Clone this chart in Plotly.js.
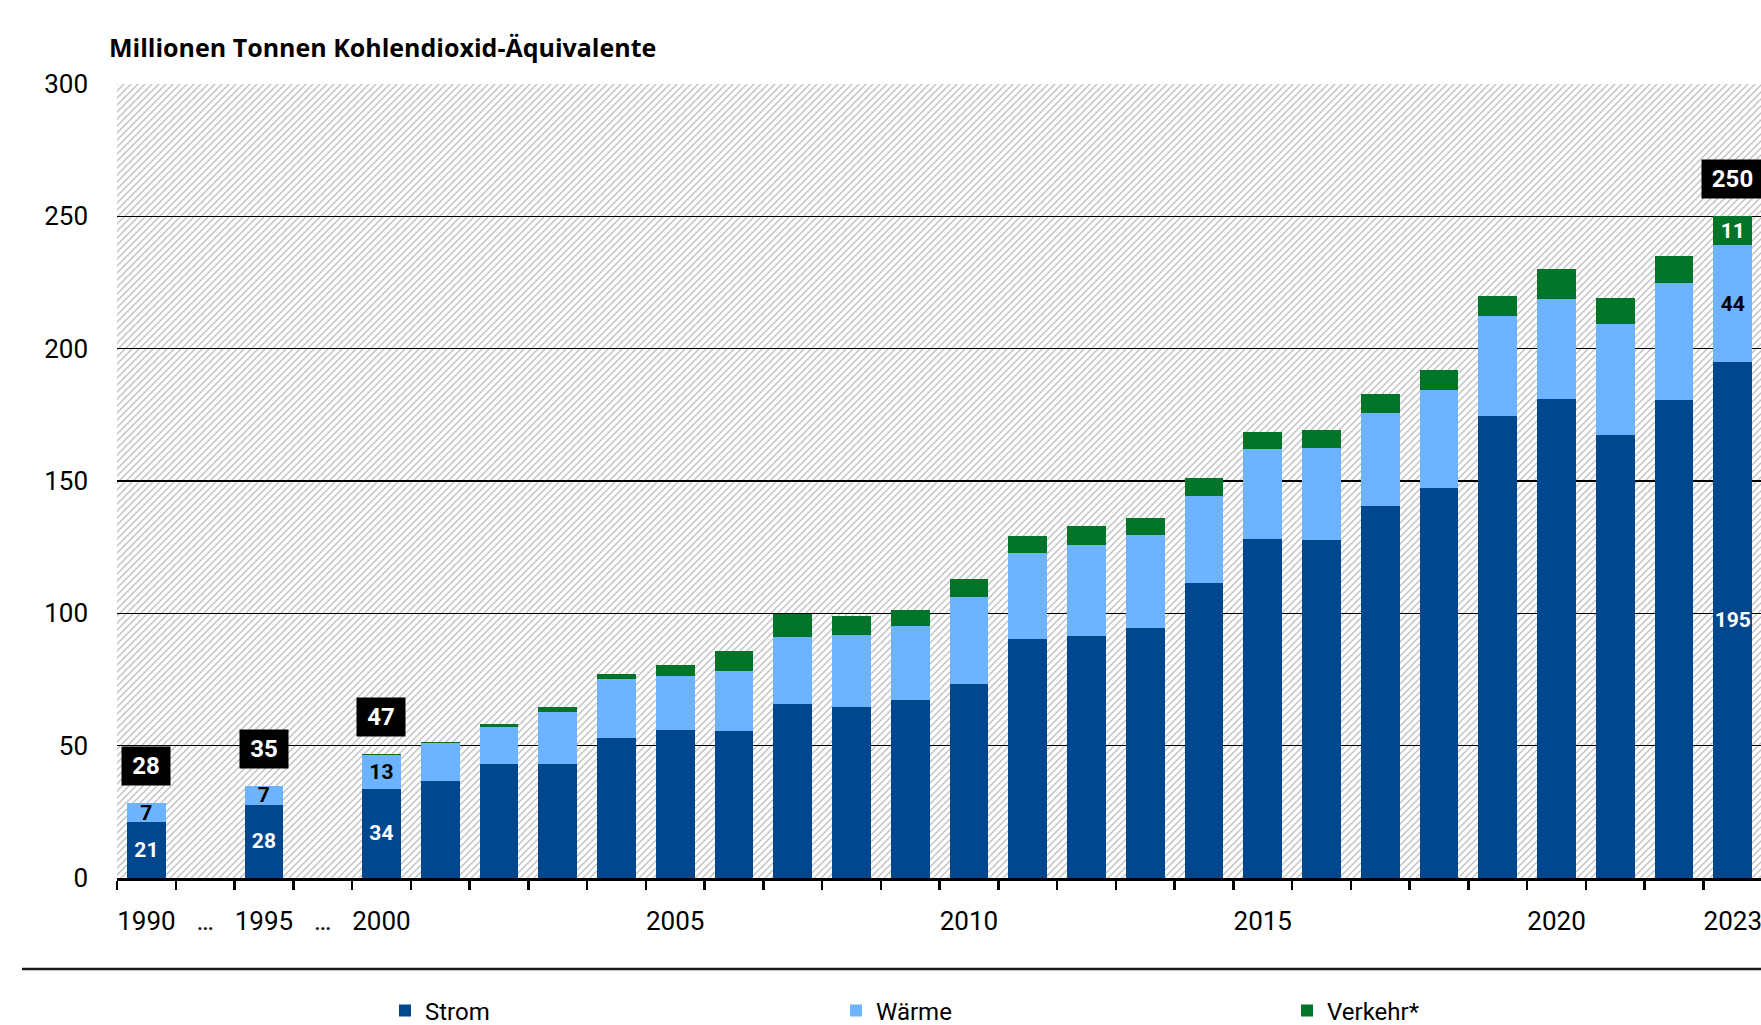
<!DOCTYPE html>
<html>
<head>
<meta charset="utf-8">
<script src="https://cdn.plot.ly/plotly-3.0.1.min.js"></script>
<style>
  html, body { margin: 0; padding: 0; background: #fff; }
  #chart { width: 1761px; height: 1025px; }
</style>
</head>
<body>
<div id="chart"></div>
<script>
// ---------- DATA ----------
const slots = ['1990','…a','1995','…b','2000','2001','2002','2003','2004','2005','2006','2007','2008','2009','2010',
               '2011','2012','2013','2014','2015','2016','2017','2018','2019','2020','2021','2022','2023'];
const tickLabels = ['1990','…','1995','…','2000','','','','','2005','','','','','2010',
                    '','','','','2015','','','','','2020','','','2023'];
const strom   = [21.2, null, 27.7, null, 33.8, 36.6, 43.2, 43.1, 52.8, 55.8, 55.6, 65.6, 64.6, 67.2, 73.3,
                 90.4, 91.6, 94.6, 111.6, 127.9, 127.7, 140.7, 147.3, 174.7, 181.0, 167.5, 180.6, 195.0];
const waerme  = [7.0, null, 7.0, null, 12.7, 14.4, 13.9, 19.6, 22.3, 20.5, 22.5, 25.3, 27.4, 28.0, 33.0,
                 32.3, 34.3, 35.0, 32.8, 34.2, 34.7, 34.9, 37.0, 37.8, 37.9, 41.7, 44.1, 44.0];
const verkehr = [0.0, null, 0.2, null, 0.5, 0.5, 1.1, 1.8, 2.1, 4.3, 7.7, 8.9, 6.9, 6.1, 6.7,
                 6.6, 7.2, 6.5, 6.8, 6.5, 7.0, 7.2, 7.7, 7.5, 11.1, 9.9, 10.3, 11.0];
const labeledYears = ['1990','1995','2000','2023'];
const seriesNames = ['Strom','Wärme','Verkehr*'];
const chartTitle = 'Millionen Tonnen Kohlendioxid-Äquivalente';

// ---------- STYLE ----------
const FONT = 'Roboto, "Open Sans", "DejaVu Sans", sans-serif';
const TITLE_FONT = '"Open Sans", Roboto, sans-serif';
const colors = ['#00478d', '#6cb4ff', '#00752a'];
const textColors = ['#ffffff', '#000000', '#ffffff'];

function labelsFor(values, minVal) {
  return slots.map((s, i) =>
    (labeledYears.includes(s) && values[i] !== null && values[i] >= minVal) ? String(Math.round(values[i])) : '');
}

const seriesValues = [strom, waerme, verkehr];
const traces = seriesValues.map((vals, k) => ({
  type: 'bar',
  name: seriesNames[k],
  x: slots,
  y: vals,
  marker: { color: colors[k], line: { width: 0 } },
  text: labelsFor(vals, 1),
  textposition: 'inside',
  insidetextanchor: 'middle',
  constraintext: 'none',
  textangle: 0,
  textfont: { family: FONT, size: 21, color: textColors[k], weight: 700 },
  hoverinfo: 'x+y+name',
  cliponaxis: false
}));

// totals boxes
const annotations = [];
slots.forEach((s, i) => {
  if (!labeledYears.includes(s)) return;
  const total = (strom[i] || 0) + (waerme[i] || 0) + (verkehr[i] || 0);
  const txt = String(Math.round(total));
  annotations.push({
    x: i, y: total, xref: 'x', yref: 'y',
    text: '<b>' + txt + '</b>', showarrow: false,
    xanchor: 'center', yanchor: 'bottom', yshift: 17,
    bgcolor: '#000000', borderpad: 5,
    width: 38 + (txt.length - 2) * 13,
    font: { family: FONT, size: 24, color: '#ffffff' }
  });
});

// hatched background image
const W = 1644, H = 794;
const hatch = `<svg xmlns="http://www.w3.org/2000/svg" width="${W}" height="${H}"><defs><pattern id="p" patternUnits="userSpaceOnUse" width="7" height="7"><path d="M-1,1 l2,-2 M0,7 l7,-7 M6,8 l2,-2" stroke="#c0c0c0" stroke-width="1.4"/></pattern></defs><rect width="100%" height="100%" fill="#ffffff"/><rect width="100%" height="100%" fill="url(#p)"/></svg>`;

const layout = {
  width: 1761, height: 1025,
  margin: { l: 117, r: 0, t: 84, b: 147, pad: 0 },
  paper_bgcolor: '#ffffff',
  plot_bgcolor: 'rgba(0,0,0,0)',
  barmode: 'stack',
  bargap: 0.34,
  font: { family: FONT, color: '#000000' },
  title: {
    text: chartTitle,
    font: { family: TITLE_FONT, size: 25, color: '#000000', weight: 700 },
    xref: 'container', yref: 'container',
    x: 109 / 1761, xanchor: 'left',
    y: 1 - 48 / 1025, yanchor: 'middle'
  },
  xaxis: {
    type: 'category',
    categoryorder: 'array', categoryarray: slots,
    range: [-0.5, 27.48],
    tickmode: 'array', tickvals: slots, ticktext: tickLabels,
    tickson: 'boundaries',
    tickangle: 0,
    ticks: 'outside', ticklen: 9, tickwidth: 2.5, tickcolor: '#000000',
    showline: true, linecolor: '#000000', linewidth: 3,
    showgrid: false, zeroline: false,
    tickfont: { family: FONT, size: 26, color: '#000000' },
    ticklabelstandoff: 18,
    fixedrange: true
  },
  yaxis: {
    range: [0, 300],
    tickmode: 'linear', tick0: 0, dtick: 50,
    showgrid: true, gridcolor: '#000000', gridwidth: 1.5,
    zeroline: false, showline: false,
    ticks: '',
    tickfont: { family: FONT, size: 26, color: '#000000' },
    ticklabelstandoff: 28,
    fixedrange: true
  },
  legend: {
    orientation: 'h',
    xref: 'container', yref: 'container',
    x: 385 / 1761, xanchor: 'left',
    y: 1 - 1011 / 1025, yanchor: 'middle',
    entrywidth: 406, entrywidthmode: 'pixels',
    font: { family: FONT, size: 24, color: '#000000' },
    bgcolor: 'rgba(0,0,0,0)',
    traceorder: 'normal'
  },
  showlegend: true,
  annotations: annotations,
  shapes: [{
    type: 'line', xref: 'paper', yref: 'paper',
    x0: (22 - 117) / 1644, x1: 1.01,
    y0: (878 - 969) / 794, y1: (878 - 969) / 794,
    line: { color: '#1a1a1a', width: 2.5 }
  }],
  images: [{
    source: 'data:image/svg+xml;charset=utf-8,' + encodeURIComponent(hatch),
    xref: 'paper', yref: 'paper',
    x: 0, y: 1, sizex: 1, sizey: 1,
    xanchor: 'left', yanchor: 'top',
    sizing: 'stretch', layer: 'below'
  }]
};

Plotly.newPlot('chart', traces, layout, { displayModeBar: false, staticPlot: true });
</script>
</body>
</html>
